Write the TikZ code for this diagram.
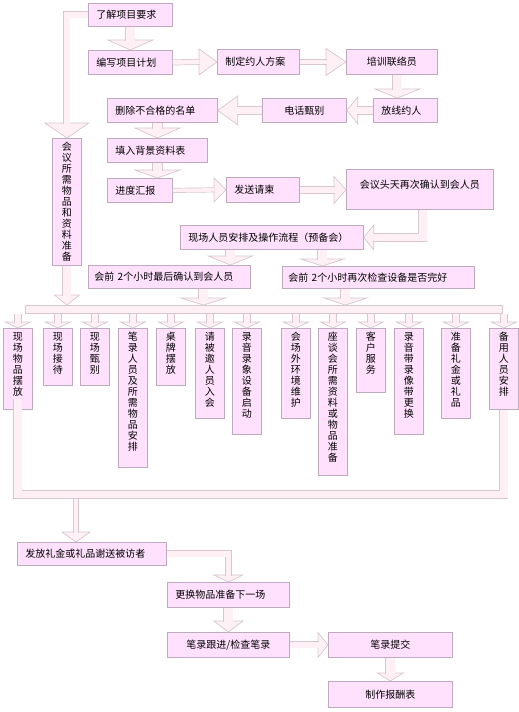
\documentclass[tikz,border=0pt]{standalone}
\usepackage{fontspec}
\setmainfont{Noto Sans CJK SC}
\usetikzlibrary{calc}
\definecolor{BoxFill}{HTML}{FFE1FE}
\definecolor{BoxLine}{HTML}{BDAABD}
\definecolor{PipeFill}{HTML}{FFF0F6}
\definecolor{PipeLine}{HTML}{D8C6D0}
\newcommand\colstack[2]{\parbox[c][#1][t]{12pt}{\XeTeXlinebreaklocale "zh"\XeTeXlinebreakskip=0pt plus 1pt\centering\vspace*{4pt}#2}}
\newcommand\tipdown[3]{\filldraw[pipehead] (#1) -- ++(-#2,-#3) -- ++(2*#2,0) -- cycle;}
\newcommand\tipright[3]{\filldraw[pipehead] (#1) -- ++(-#3,-#2) -- ++(0,2*#2) -- cycle;}
\newcommand\tipleft[3]{\filldraw[pipehead] (#1) -- ++(#3,-#2) -- ++(0,2*#2) -- cycle;}
\tikzset{
  stepbox/.style={
    draw=BoxLine,
    fill=BoxFill,
    line width=0.8pt,
    anchor=north west,
    inner xsep=8pt,
    inner ysep=0pt,
    align=left,
    font=\fontsize{10}{12}\selectfont
  },
  midbox/.style={
    stepbox,
    inner xsep=0pt,
    align=center
  },
  standbox/.style={
    draw=BoxLine,
    fill=BoxFill,
    line width=0.8pt,
    anchor=north west,
    inner sep=0pt,
    minimum width=29pt,
    font=\fontsize{10}{11}\selectfont
  },
  railbox/.style={
    draw=PipeLine,
    fill=PipeFill,
    line width=0.7pt,
    anchor=north west,
    inner sep=0pt
  },
  pipe/.style={
    draw=PipeLine,
    double=PipeFill,
    double distance=#1,
    line width=0.7pt
  },
  pipe/.default=7.6pt,
  pipehead/.style={
    draw=PipeLine,
    fill=PipeFill,
    line width=0.7pt
  }
}
\begin{document}
\begin{tikzpicture}[x=1pt,y=-1pt]
  \useasboundingbox[fill=white] (0,0) rectangle (519,712);
  % upper chain
  \node[stepbox,text width=68pt,minimum height=23pt] (know) at (88,3) {了解项目要求};
  \node[stepbox,text width=68pt,minimum height=24pt] (plan) at (88,50) {编写项目计划};
  \node[stepbox,text width=66pt,minimum height=25pt] (scheme) at (217,49) {制定约人方案};
  \node[midbox,minimum width=91pt,minimum height=25pt] (train) at (346,49) {培训联络员};
  \node[stepbox,text width=48pt,minimum height=24pt] (invite) at (373,98) {放线约人};
  \node[midbox,minimum width=84pt,minimum height=24pt] (phone) at (262,98) {电话甄别};
  \node[stepbox,text width=94pt,minimum height=24pt] (purge) at (107,98) {删除不合格的名单};
  \node[stepbox,text width=84pt,minimum height=24pt] (bgform) at (107,138) {填入背景资料表};
  \node[stepbox,text width=49pt,minimum height=24pt] (report) at (107,178) {进度汇报};
  \node[stepbox,text width=57pt,minimum height=25pt] (letter) at (226,177) {发送请柬};
  \node[stepbox,inner xsep=0pt] (recheck) at (346,169) {\parbox[c][40pt][t]{147pt}{\centering\vspace*{11pt}会议头天再次确认到会人员}};
  \node[stepbox,text width=167pt,minimum height=24pt] (brief) at (180,225) {现场人员安排及操作流程（预备会）};
  \node[stepbox,inner xsep=6pt,text width=150pt,minimum height=23pt] (lastcall) at (88,265) {会前 2个小时最后确认到会人员};
  \node[stepbox,inner xsep=6pt,text width=180pt,minimum height=22pt] (devcheck) at (282,266) {会前 2个小时再次检查设备是否完好};
  \node[standbox] (supply) at (52,138) {\colstack{127pt}{会议所需物品和资料准备}};
  % on-site tasks
  \node[railbox,minimum width=477pt,minimum height=8pt] (bar) at (25,305) {};
  \foreach \name/\x/\h/\txt in {b1/3/81/现场物品摆放, b2/43/57/现场接待, b3/80/57/现场甄别,
      b4/118/139/笔录人员及所需物品安排, b5/156/57/桌牌摆放, b6/195/90/请被邀人员入会,
      b7/232/106/录音录象设备启动, b8/281/90/会场外环境维护, b9/318/147/座谈会所需资料或物品准备,
      b10/356/64/客户服务, b11/394/106/录音带录像带更换, b12/441/90/准备礼金或礼品,
      b13/489/81/备用人员安排}
    \node[standbox] (\name) at (\x,328) {\colstack{\h pt}{\txt}};
  % closing chain
  \node[stepbox,text width=133pt,minimum height=23pt] (gift) at (17,542) {发放礼金或礼品谢送被访者};
  \node[stepbox,text width=106pt,minimum height=25pt] (swap) at (167,582) {更换物品准备下一场};
  \node[midbox,minimum width=122pt,minimum height=25pt] (notes) at (167,632) {笔录跟进/检查笔录};
  \node[midbox,minimum width=124pt,minimum height=25pt] (submit) at (328,632) {笔录提交};
  \node[midbox,minimum width=124pt,minimum height=26pt] (payroll) at (328,681) {制作报酬表};
  % block arrows
  \tipdown{plan.north}{22.5}{10}
  \draw[pipe=8.6pt] (know.south) -- ([yshift=9.5pt]plan.north);
  \tipright{scheme.west}{13}{18}
  \draw[pipe=4.6pt] (plan.east) -- ([xshift=-17.5pt]scheme.west);
  \tipright{train.west}{13.5}{20}
  \draw[pipe=4.6pt] (scheme.east) -- ([xshift=-19.5pt]train.west);
  \tipdown{$(train.south |- invite.north)+(5.5,0)$}{22.5}{9}
  \draw[pipe=8.6pt] ([xshift=5.5pt]train.south) -- ($(train.south |- invite.north)+(5.5,-8.5)$);
  \tipleft{phone.east}{13.5}{11}
  \draw[pipe] (invite.west) -- ([xshift=10.5pt]phone.east);
  \tipleft{purge.east}{14.5}{20}
  \draw[pipe] (phone.west) -- ([xshift=19.5pt]purge.east);
  \tipdown{bgform.north}{22.5}{10}
  \draw[pipe=9.6pt] (bgform.north |- purge.south) -- ([yshift=9.5pt]bgform.north);
  \tipdown{bgform.south |- report.north}{22.5}{8}
  \draw[pipe=9.6pt] (bgform.south) -- ($(bgform.south |- report.north)+(0,-7.5)$);
  \tipright{letter.west}{12}{12}
  \draw[pipe=3.6pt] (report.east) -- ([xshift=-11.5pt]letter.west);
  \tipright{recheck.west |- letter.east}{13.5}{12}
  \draw[pipe=6.6pt] (letter.east) -- ($(recheck.west |- letter.east)+(-11.5,0)$);
  \tipleft{brief.east}{12.5}{10}
  \draw[pipe] ([xshift=3pt]recheck.south) |- ([xshift=9.5pt]brief.east);
  \tipdown{$(brief.south |- lastcall.north)+(-41.5,0)$}{22}{9}
  \draw[pipe=8.6pt] ([xshift=-41.5pt]brief.south) -- ($(brief.south |- lastcall.north)+(-41.5,-8.5)$);
  \tipdown{$(brief.south |- devcheck.north)+(50.5,0)$}{21.5}{7}
  \draw[pipe=8.6pt] ([xshift=50.5pt]brief.south) -- ($(brief.south |- devcheck.north)+(50.5,-6.5)$);
  \tipdown{$(lastcall.south |- bar.north)+(34,0)$}{22.5}{7}
  \draw[pipe=8.6pt] ([xshift=34pt]lastcall.south) -- ($(lastcall.south |- bar.north)+(34,-6.5)$);
  \tipdown{$(devcheck.south |- bar.north)+(-33,0)$}{21.5}{7}
  \draw[pipe=8.6pt] ([xshift=-33pt]devcheck.south) -- ($(devcheck.south |- bar.north)+(-33,-6.5)$);
  % side branch
  \tipdown{supply.north}{22}{15}
  \draw[pipe=5.6pt] (know.west) -| ([yshift=14.5pt]supply.north);
  \tipdown{supply.south |- bar.north}{12.5}{10}
  \draw[pipe] (supply.south) -- ($(supply.south |- bar.north)+(0,-9.5)$);
  % fan out
  \foreach \i in {1,...,13}{
    \tipdown{b\i.north}{12.5}{6}
    \draw[pipe=6.6pt] (b\i.north |- bar.south) -- ([yshift=5.5pt]b\i.north);
  }
  % gather and finish
  \coordinate (sink) at (76,494.5);
  \tipdown{sink |- gift.north}{14}{10}
  \draw[pipe=4.6pt] (sink) -- ($(sink |- gift.north)+(0,-9.5)$);
  \draw[pipe] ([yshift=11pt]b1.south) -- (b1.south |- sink) -| (b13.south);
  \tipdown{swap.north}{14.5}{7}
  \draw[pipe=5.6pt] (gift.east) -| ([yshift=6.5pt]swap.north);
  \tipdown{notes.north}{14.5}{11}
  \draw[pipe=8.6pt] (swap.south) -- ([yshift=10.5pt]notes.north);
  \tipright{submit.west}{12.5}{10}
  \draw[pipe=5.6pt] (notes.east) -- ([xshift=-9.5pt]submit.west);
  \tipdown{payroll.north}{13}{8}
  \draw[pipe=8.6pt] (submit.south) -- ([yshift=7.5pt]payroll.north);
\end{tikzpicture}
\end{document}
